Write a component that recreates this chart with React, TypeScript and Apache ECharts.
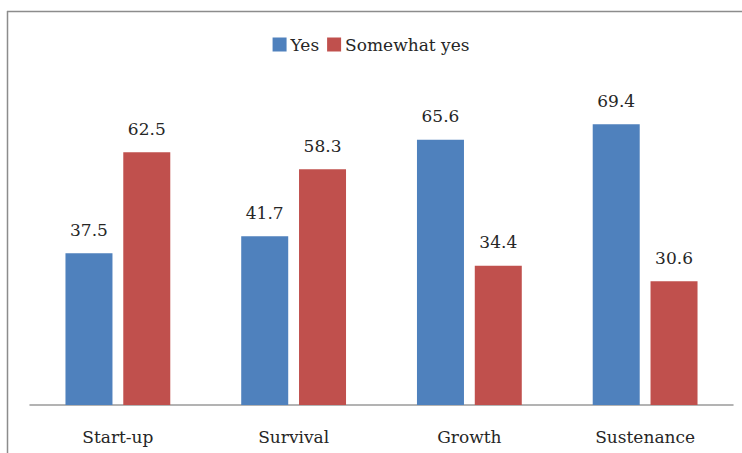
import React, { useEffect, useRef } from "react";
import * as echarts from "echarts";

const categories = ["Start-up", "Survival", "Growth", "Sustenance"];
const yesValues = [37.5, 41.7, 65.6, 69.4];
const somewhatYesValues = [62.5, 58.3, 34.4, 30.6];
const seriesNames = ["Yes", "Somewhat yes"];

const FONT = "DejaVu Serif";
const FONT_SIZE = 17;
const TEXT = "#262626";

export default function App() {
  const ref = useRef<HTMLDivElement>(null);

  useEffect(() => {
    if (!ref.current) return;
    const chart = echarts.init(ref.current, undefined, { renderer: "svg" });
    const label = {
      show: true,
      position: "top" as const,
      distance: 15,
      color: TEXT,
      fontFamily: FONT,
      fontSize: FONT_SIZE,
      formatter: (p: any) => Number(p.value).toFixed(1),
    };
    chart.setOption({
      animation: false,
      backgroundColor: "#ffffff",
      textStyle: { fontFamily: FONT },
      graphic: [
        {
          type: "line",
          shape: { x1: 7, y1: 11.5, x2: 742, y2: 11.5 },
          style: { stroke: "#8c8c8c", lineWidth: 1.5 },
          silent: true,
        },
        {
          type: "line",
          shape: { x1: 7.5, y1: 11, x2: 7.5, y2: 453 },
          style: { stroke: "#8c8c8c", lineWidth: 1.5 },
          silent: true,
        },
      ],
      legend: {
        data: seriesNames,
        top: 31,
        left: "center",
        itemWidth: 14,
        itemHeight: 14,
        itemGap: 8,
        icon: "rect",
        textStyle: { color: TEXT, fontFamily: FONT, fontSize: FONT_SIZE, padding: [0, 0, 0, -1] },
      },
      grid: { left: 30, right: 9, top: 41, bottom: 48 },
      xAxis: {
        type: "category",
        data: categories,
        axisLine: { lineStyle: { color: "#9a9a9a", width: 1.5 } },
        axisTick: { show: false },
        axisLabel: { color: TEXT, fontFamily: FONT, fontSize: FONT_SIZE, margin: 23 },
      },
      yAxis: {
        type: "value",
        min: 0,
        max: 90,
        show: false,
        splitLine: { show: false },
      },
      series: [
        {
          name: seriesNames[0],
          type: "bar",
          data: yesValues,
          barWidth: 47,
          barGap: "23%",
          itemStyle: { color: "#4f81bd" },
          label,
        },
        {
          name: seriesNames[1],
          type: "bar",
          data: somewhatYesValues,
          barWidth: 47,
          itemStyle: { color: "#c0504d" },
          label,
        },
      ],
    });
    return () => chart.dispose();
  }, []);

  return (
    <div
      ref={ref}
      style={{ position: "fixed", left: 0, top: 0, width: 742, height: 453 }}
    />
  );
}
